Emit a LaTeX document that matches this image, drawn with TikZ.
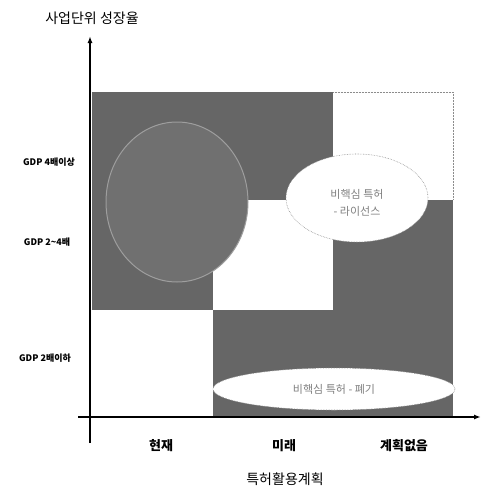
\documentclass[tikz,border=0pt]{standalone}
\usepackage{fontspec}
\usetikzlibrary{shapes.geometric,arrows.meta}
\setmainfont{Noto Sans CJK KR}
\newfontfamily\kr{Noto Sans CJK KR}
\begin{document}
\begin{tikzpicture}[x=1pt,y=-1pt,
  darkcell/.style={fill=black!60,draw=none},
  axisline/.style={line width=1.6pt,-{Latex[length=7pt,width=5pt]}},
  rowlab/.style={font=\kr\bfseries\fontsize{9}{10}\selectfont,anchor=center},
  collab/.style={font=\kr\bfseries\fontsize{13}{14}\selectfont,anchor=center},
  bubble/.style={fill=white,draw=black!45,densely dotted,line width=0.6pt},
  bubtext/.style={font=\kr\fontsize{11}{13}\selectfont,text=black!50,align=center}
]
\useasboundingbox (0,0) rectangle (481,488);
% cells
\fill[darkcell] (92,92) rectangle (333,200);
\fill[darkcell] (92,200) rectangle (213,310);
\fill[darkcell] (333,200) rectangle (453,417);
\fill[darkcell] (213,310) rectangle (333,417);
\draw[black!45,densely dotted,line width=0.5pt] (333,92) -- (453,92) -- (453,200);
% big circle
\draw[fill=black!56,draw=black!38,line width=1pt] (177,202) ellipse [x radius=71,y radius=80];
% bubbles
\node[bubble,ellipse,minimum width=142,minimum height=88,inner sep=0] (lic) at (357,198) {};
\node[bubtext] (lictext) at (357,203) {비핵심 특허\\[4pt]- 라이선스};
\node[bubble,ellipse,minimum width=242,minimum height=42,inner sep=0] (disp) at (334,389) {};
\node[bubtext] (disptext) at (334,389) {비핵심 특허 - 폐기};
% axes
\coordinate (ybot) at (90,443);
\coordinate (ytop) at (90,36);
\coordinate (xleft) at (78,417);
\coordinate (xright) at (481,417);
\draw[axisline] (ybot) -- (ytop);
\draw[axisline] (xleft) -- (xright);
% labels
\node[font=\kr\fontsize{14}{16}\selectfont] (ytitle) at (92,18) {사업단위 성장율};
\node[rowlab] (r1) at (49,162) {GDP 4배이상};
\node[rowlab] (r2) at (47,242) {GDP 2\textasciitilde4배};
\node[rowlab] (r3) at (45,358) {GDP 2배이하};
\node[collab] (c1) at (161,446) {현재};
\node[collab] (c2) at (284,446) {미래};
\node[collab] (c3) at (404,446) {계획없음};
\node[font=\kr\fontsize{14}{16}\selectfont] (xtitle) at (285,479) {특허활용계획};
\end{tikzpicture}
\end{document}
